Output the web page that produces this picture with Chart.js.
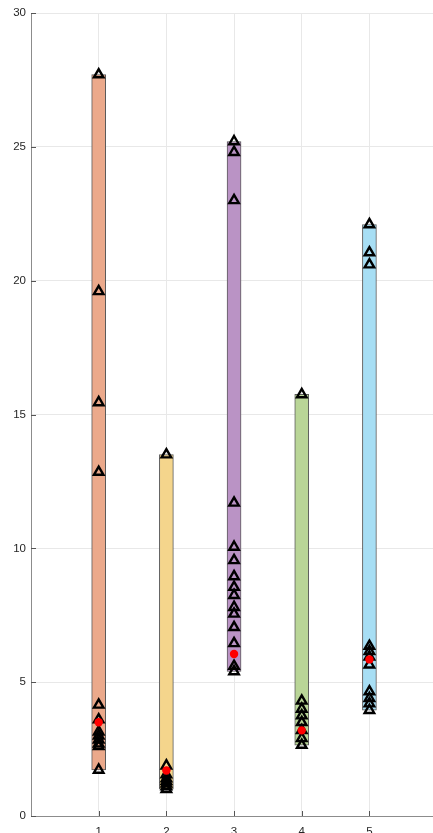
<!DOCTYPE html>
<html>
<head>
<meta charset="utf-8">
<script src="https://cdn.jsdelivr.net/npm/chart.js@4/dist/chart.umd.min.js"></script>
<style>
  html, body { margin: 0; padding: 0; overflow: hidden; background: #ffffff; }
  #wrap { width: 445px; height: 850px; }
</style>
</head>
<body>
<div id="wrap"><canvas id="c" width="445" height="850"></canvas></div>
<script>
// Group positions on the x axis
const groups = [1, 2, 3, 4, 5];

// Observations per group
const group1 = [27.7, 19.6, 15.45, 12.85, 4.15, 3.6, 3.15, 3.0, 2.85, 2.7, 2.6, 1.72];
const group2 = [13.5, 1.88, 1.55, 1.4, 1.3, 1.2, 1.1, 1.0];
const group3 = [25.2, 24.8, 23.0, 11.7, 10.05, 9.55, 8.95, 8.55, 8.25, 7.8, 7.55, 7.05, 6.45, 5.6, 5.4];
const group4 = [15.75, 4.3, 4.0, 3.75, 3.5, 3.2, 2.9, 2.65];
const group5 = [22.1, 21.05, 20.6, 6.35, 6.15, 5.95, 5.65, 4.65, 4.4, 4.2, 3.95];

// Central value marked in red for each group
const centers = [3.5, 1.7, 6.05, 3.2, 5.85];

// Axis ticks
const xTicks = [1, 2, 3, 4, 5];
const yTicks = [0, 5, 10, 15, 20, 25, 30];

// Bar fills
const barFill = ['#eba98b', '#f4d58c', '#ba93c5', '#b9d597', '#a7def4'];

const allGroups = [group1, group2, group3, group4, group5];

const rangeData = groups.map((g, i) => ({
  x: g,
  y: [Math.min(...allGroups[i]), Math.max(...allGroups[i])]
}));

const pointData = [];
groups.forEach((g, i) => allGroups[i].forEach(v => pointData.push({ x: g, y: v })));

const centerData = groups.map((g, i) => ({ x: g, y: centers[i] }));

// Short inward tick marks on both axes
const innerTicks = {
  id: 'innerTicks',
  afterDatasetsDraw(chart) {
    const { ctx, chartArea, scales } = chart;
    ctx.save();
    ctx.strokeStyle = '#555555';
    ctx.lineWidth = 1;
    ctx.beginPath();
    xTicks.forEach(v => {
      const px = Math.round(scales.x.getPixelForValue(v)) + 0.5;
      ctx.moveTo(px, chartArea.bottom);
      ctx.lineTo(px, chartArea.bottom - 5);
    });
    yTicks.forEach(v => {
      const py = Math.round(scales.y.getPixelForValue(v)) + 0.5;
      ctx.moveTo(chartArea.left, py);
      ctx.lineTo(chartArea.left + 5, py);
    });
    ctx.stroke();
    ctx.restore();
  }
};

new Chart(document.getElementById('c'), {
  data: {
    datasets: [
      {
        type: 'scatter',
        data: centerData,
        pointStyle: 'circle',
        pointRadius: 4.2,
        pointBackgroundColor: '#ff0000',
        pointBorderWidth: 0,
        order: 0
      },
      {
        type: 'scatter',
        data: pointData,
        pointStyle: 'triangle',
        pointRadius: 5.5,
        pointBackgroundColor: 'rgba(0,0,0,0)',
        pointBorderColor: '#000000',
        pointBorderWidth: 2.4,
        order: 1
      },
      {
        type: 'bar',
        data: rangeData,
        backgroundColor: barFill,
        borderColor: '#5a5a5a',
        borderWidth: 1,
        borderSkipped: false,
        barThickness: 14,
        order: 2
      }
    ]
  },
  options: {
    responsive: false,
    devicePixelRatio: 1,
    animation: false,
    layout: { padding: { top: 13, right: 6, left: 0, bottom: 0 } },
    plugins: { legend: { display: false }, tooltip: { enabled: false } },
    scales: {
      x: {
        type: 'linear',
        min: 0,
        max: 6,
        offset: false,
        afterBuildTicks: s => { s.ticks = xTicks.map(v => ({ value: v })); },
        afterFit: s => { s.height = 34; },
        grid: { color: '#e8e8e8', drawTicks: false, offset: false },
        border: { color: '#8c8c8c' },
        ticks: { color: '#262626', padding: 9, font: { family: 'Liberation Sans', size: 11.5 } }
      },
      y: {
        type: 'linear',
        min: 0,
        max: 30,
        afterBuildTicks: s => { s.ticks = yTicks.map(v => ({ value: v })); },
        afterFit: s => { s.width = 31; },
        grid: { color: '#e8e8e8', drawTicks: false },
        border: { color: '#8c8c8c' },
        ticks: { color: '#262626', padding: 5, font: { family: 'Liberation Sans', size: 11.5 } }
      }
    }
  },
  plugins: [innerTicks]
});
</script>
</body>
</html>
